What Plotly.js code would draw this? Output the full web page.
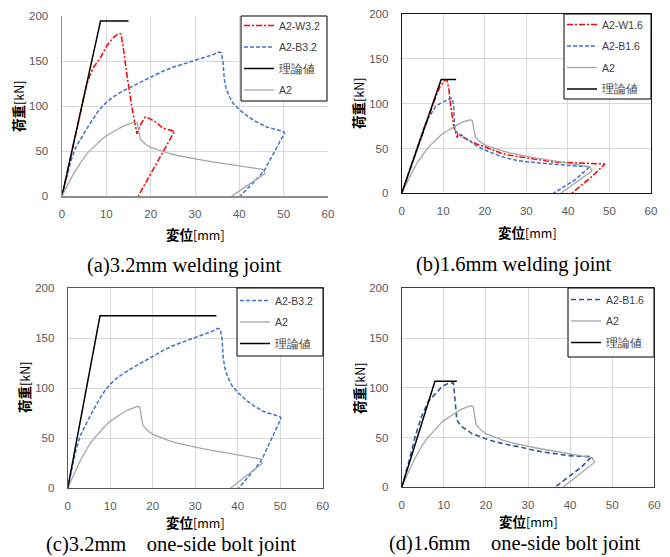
<!DOCTYPE html>
<html>
<head>
<meta charset="utf-8">
<script src="https://cdn.plot.ly/plotly-3.0.1.min.js"></script>
<style>
html,body{margin:0;padding:0;background:#fff;}
#chart{width:670px;height:557px;}
</style>
</head>
<body>
<div id="chart"></div>
<script>
// ---------------- DATA (displacement [mm], load [kN]) ----------------
// A2 (reference specimen, shown in all four panels)
const dispA2 = [0,1,2,3,4,5,6,7,8,9,10,11,12,13,14,15,16,16.5,17.0,17.3,17.7,18.3,19,20,22,24,26,28,30,32,34,36,38,40,42,44,45.3,45.8,38.3];
const loadA2 = [0,10,19,28,36,43,49,54,59,63,67,70,73,75.5,78,80,81.5,82,81,72,63,60,57,54,50.5,47.5,45,43,41,39.5,38,36.5,34.5,33,31.5,30,29.5,25,0];

// A2-W3.2
const dispW32 = [0,2,4,5.4,6.2,7.1,8.6,10.1,11.6,12.75,13.3,13.7,14.6,15.75,16.9,17.8,18.8,20,21.5,22.3,23,24,25,25.4,21.3,17.2];
const loadW32 = [0,44,89,120,133,143,153,167,176,180.5,180,169,136,99,69,80,88,85.5,81,77,75,74,73,72,36,0];

// A2-B3.2
const dispB32 = [0,1,2,3,4,5,6,7,8,9,10,11.5,13.5,15.5,17.5,20,22.5,25,27.5,30,32,34,35.4,35.9,36.3,36.6,37,37.6,38.6,40,42,44,46,48,50,50.2,47.5,45.6,43,40.2];
const loadB32 = [0,20,39,53,62,70,78,86,93,99,104,110,116,121,126,132,138,143,147,150.5,153.5,157,160,159,150,130,120,112,103,96,88,82,77,74,71.5,70,46,28,14,0];

// A2-W1.6
const dispW16 = [0,2,4,6,8,9.2,10,10.4,10.9,11.3,11.8,12.3,12.6,13.1,13.4,13.5,14.1,15,16,18,20,22,24,26,28,30,32,34,36,38,40,42,44,46,48,48.9,45.6,40.9];
const loadW16 = [0,27,53,79,105,119,124,126.5,126,118,97,80,73,66,62,66,64,62,59.5,55,52,48,44.6,42.5,41,39.5,37.5,36.3,35.3,34.7,34.2,33.8,33.5,33.2,33,32.7,18,0];

// A2-B1.6 (panel b)
const dispB16 = [0,1.5,3,4.2,5.4,6.3,7.1,8.2,9.2,10.2,11,11.8,12.2,12.5,12.7,13.0,14.2,15,16,18,20,22,24,26,28,30,32,34,36,38,40,42,44,45.3,41.7,36.5];
const loadB16 = [0,20,41,58,74,83,89.6,97,100,102.6,104,106,105.5,97,75,69,65.5,63,59.5,53,48.3,44.5,41,38.5,36.4,35.3,34.2,33.3,32.7,32,30.9,30.4,30,29.7,15,0];

// A2-B1.6 (panel d)
const dispB16d = [0,1.6,3.2,4.7,6.3,7.9,9.5,11.1,12.3,12.6,12.9,13.1,14.2,15.8,16.6,18,19.8,22,23.8,26,27.7,30,31.7,34,35.6,38,39.6,42,45.1,42.8,36.4];
const loadB16d = [0,24,51,71,86,93,101,104.5,105,91,80,67.6,61,57,54,51.5,49,46,44,42,40.9,38.5,36.9,35.3,34.2,33,31.8,31.3,30.8,20.8,0];

// 理論値 (theoretical) per panel
const dispThA = [0,8.7,15];   const loadThA = [0,194.5,194.5];
const dispThB = [0,9.5,13.1]; const loadThB = [0,127,127];
const dispThC = [0,7.6,35];   const loadThC = [0,172.5,172.5];
const dispThD = [0,7.9,13.1]; const loadThD = [0,106.5,106.5];

// labels
const nameTh = '<span style="font-size:11.5px">理論値</span>';
const captions = ['(a)3.2mm welding joint','(b)1.6mm welding joint',
  '(c)3.2mm\u00a0\u00a0\u00a0\u00a0one-side bolt joint','(d)1.6mm\u00a0\u00a0\u00a0\u00a0one-side bolt joint'];
const xTitle = '<b>変位</b><span style="font-size:12.5px">[mm]</span>';
const yTitle = '<b>荷重</b><span style="font-size:12.5px">[kN]</span>';

// ---------------- STYLE ----------------
const W = 670, H = 557;
const fx = px => px / W;
const fy = py => 1 - py / H;

const RED = '#FF0000', BLUE = '#4472C4', DBLUE = '#2F5597', GRAY = '#A6A6A6', BLACK = '#000000';
const stRed = {color: RED, width: 1.5, dash: '6px,2px,2px,2px'};
const stBlue = {color: BLUE, width: 1.5, dash: '4px,2px'};
const stDBlue = {color: DBLUE, width: 1.6, dash: '5px,3px'};
const stGray = {color: GRAY, width: 1.3};
const stBlack = {color: BLACK, width: 1.5};

let gid = 0;
function tr(x, y, name, line, xa, ya, leg) {
  gid++;
  return {x: x, y: y, name: name, mode: 'lines', line: line, xaxis: xa, yaxis: ya,
          legend: leg, legendgroup: 'g' + gid, hoverinfo: 'skip'};
}

const data = [
  // panel (a)
  tr(dispW32, loadW32, 'A2-W3.2', stRed, 'x', 'y', 'legend'),
  tr(dispB32, loadB32, 'A2-B3.2', stBlue, 'x', 'y', 'legend'),
  tr(dispThA, loadThA, nameTh, stBlack, 'x', 'y', 'legend'),
  tr(dispA2, loadA2, 'A2', stGray, 'x', 'y', 'legend'),
  // panel (b)
  tr(dispW16, loadW16, 'A2-W1.6', stRed, 'x2', 'y2', 'legend2'),
  tr(dispB16, loadB16, 'A2-B1.6', stBlue, 'x2', 'y2', 'legend2'),
  tr(dispA2, loadA2, 'A2', stGray, 'x2', 'y2', 'legend2'),
  tr(dispThB, loadThB, nameTh, stBlack, 'x2', 'y2', 'legend2'),
  // panel (c)
  tr(dispB32, loadB32, 'A2-B3.2', stBlue, 'x3', 'y3', 'legend3'),
  tr(dispA2, loadA2, 'A2', stGray, 'x3', 'y3', 'legend3'),
  tr(dispThC, loadThC, nameTh, stBlack, 'x3', 'y3', 'legend3'),
  // panel (d)
  tr(dispB16d, loadB16d, 'A2-B1.6', stDBlue, 'x4', 'y4', 'legend4'),
  tr(dispA2, loadA2, 'A2', stGray, 'x4', 'y4', 'legend4'),
  tr(dispThD, loadThD, nameTh, stBlack, 'x4', 'y4', 'legend4')
];

const tickfont = {family: 'Liberation Sans, Arial, sans-serif', size: 11.5, color: '#595959'};
function xax(x0, x1, anchor, lc, lw, mirror) {
  return {domain: [fx(x0), fx(x1)], anchor: anchor, range: [0, 60], tick0: 0, dtick: 10,
    showgrid: true, gridcolor: '#D9D9D9', gridwidth: 1, zeroline: false,
    showline: true, linecolor: lc, linewidth: lw, mirror: mirror, ticks: '',
    ticklabelstandoff: 7, tickfont: tickfont, automargin: false, fixedrange: true};
}
function yax(y0, y1, anchor, lc, lw, mirror) {
  return {domain: [fy(y1), fy(y0)], anchor: anchor, range: [0, 200], tick0: 0, dtick: 50,
    showgrid: true, gridcolor: '#D9D9D9', gridwidth: 1, zeroline: false,
    showline: true, linecolor: lc, linewidth: lw, mirror: mirror, ticks: '',
    ticklabelstandoff: 10, tickfont: tickfont, automargin: false, fixedrange: true};
}

const legBase = {bgcolor: 'rgba(0,0,0,0)', borderwidth: 0,
  font: {family: 'Liberation Sans, Arial, sans-serif', size: 10.5, color: '#404040'},
  itemwidth: 30, tracegroupgap: 2.5, xanchor: 'left', yanchor: 'top', xref: 'paper', yref: 'paper',
  itemclick: false, itemdoubleclick: false};
function leg(px, py) { return Object.assign({}, legBase, {x: fx(px), y: fy(py)}); }

function box(x0, y0, x1, y1) {
  return {type: 'rect', xref: 'paper', yref: 'paper', x0: fx(x0), x1: fx(x1), y0: fy(y1), y1: fy(y0),
    fillcolor: '#FFFFFF', line: {color: '#000000', width: 1}, layer: 'above'};
}

function ann(text, px, py, font, angle) {
  return {text: text, x: fx(px), y: fy(py), xref: 'paper', yref: 'paper', showarrow: false,
    xanchor: 'center', yanchor: 'middle', font: font, textangle: angle || 0};
}
const titleFont = {family: 'Noto Sans CJK JP, sans-serif', size: 13.5, color: '#000000'};
const capFont = {family: 'Liberation Serif, Times New Roman, serif', size: 20.5, color: '#000000'};

const layout = {
  width: W, height: H, margin: {l: 0, r: 0, t: 0, b: 0}, paper_bgcolor: '#FFFFFF', plot_bgcolor: '#FFFFFF',
  showlegend: true,
  xaxis:  xax(62, 328, 'y', '#8C8C8C', 1.5, false),
  yaxis:  yax(16, 196, 'x', '#8C8C8C', 1.5, false),
  xaxis2: xax(401.7, 651, 'y2', '#1A1A1A', 1, true),
  yaxis2: yax(14, 193.3, 'x2', '#1A1A1A', 1, true),
  xaxis3: xax(67.7, 322.7, 'y3', '#595959', 1, true),
  yaxis3: yax(288.3, 488.3, 'x3', '#595959', 1, true),
  xaxis4: xax(401.7, 654.3, 'y4', '#404040', 1, true),
  yaxis4: yax(288.3, 487.3, 'x4', '#404040', 1, true),
  legend:  leg(239, 11),
  legend2: leg(562, 10),
  legend3: leg(235, 286),
  legend4: leg(566, 285),
  shapes: [box(241, 16, 327, 101), box(564, 14, 651, 99), box(237, 288, 323, 356), box(568, 288, 654, 357)],
  annotations: [
    ann(yTitle, 18, 107, titleFont, -90),
    ann(yTitle, 358, 104, titleFont, -90),
    ann(yTitle, 24, 388, titleFont, -90),
    ann(yTitle, 359, 389, titleFont, -90),
    ann(xTitle, 195, 234, titleFont),
    ann(xTitle, 527, 232, titleFont),
    ann(xTitle, 195, 522, titleFont),
    ann(xTitle, 528, 521, titleFont),
    ann(captions[0], 183.5, 265, capFont),
    ann(captions[1], 514, 264, capFont),
    ann(captions[2], 170.5, 544, capFont),
    ann(captions[3], 514, 543, capFont)
  ]
};

Plotly.newPlot('chart', data, layout, {staticPlot: true, displayModeBar: false});
</script>
</body>
</html>
